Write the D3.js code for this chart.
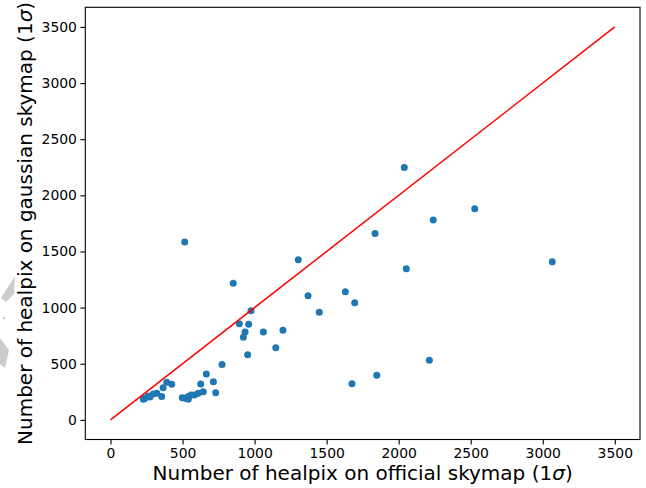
<!DOCTYPE html>
<html>
<head>
<meta charset="utf-8">
<script src="https://cdn.jsdelivr.net/npm/d3@7"></script>
<style>
  html, body { margin: 0; padding: 0; background: #fff; }
  svg { display: block; font-family: "DejaVu Sans", sans-serif; }
</style>
</head>
<body>
<svg id="chart" width="646" height="488"></svg>
<script>
// ---- Data ----
const officialCounts = [
  2039, 2528, 2240, 1836, 852, 1303, 3066, 2053, 515, 1371,
  1630, 1695, 1449, 975, 894, 959, 934, 922, 1061, 1197,
  1147, 952, 774, 2213, 1848, 1676, 665, 714, 626, 730,
  644, 609, 582, 559, 540, 517, 498, 540, 390, 425,
  365, 355, 321, 297, 262, 239, 228, 274
];
const gaussianCounts = [
  2247, 1881, 1781, 1659, 1217, 1427, 1409, 1347, 1585, 1106,
  1142, 1044, 958, 973, 857, 852, 783, 736, 783, 798,
  643, 581, 492, 531, 397, 322, 409, 340, 320, 242,
  251, 237, 222, 222, 207, 192, 198, 184, 335, 317,
  286, 207, 237, 231, 213, 192, 183, 204
];
const referenceLineX = [0, 3500];
const referenceLineY = [0, 3500];
const xTickValues = [0, 500, 1000, 1500, 2000, 2500, 3000, 3500];
const yTickValues = [0, 500, 1000, 1500, 2000, 2500, 3000, 3500];
const xLabelMain = "Number of healpix on official skymap (1";
const yLabelMain = "Number of healpix on gaussian skymap (1";
const labelSymbol = "\u03C3";
const labelClose = ")";

// ---- Layout ----
const W = 646, H = 488;
const plot = { left: 85.3, right: 640, top: 7.3, bottom: 439.5 };

const svg = d3.select("#chart");

// faint watermark fragments at the left edge
const wm = svg.append("g").attr("fill", "#cccccc");
wm.append("polygon").attr("points", "1,298 15,276 14,294 6,302");
wm.append("polygon").attr("points", "0,338 9,350 5,368 0,364");
wm.append("circle").attr("cx", 4).attr("cy", 318).attr("r", 1.3);

const x = d3.scaleLinear().domain([-175, 3675]).range([plot.left, plot.right]);
const y = d3.scaleLinear().domain([-175, 3675]).range([plot.bottom, plot.top]);

// clip
svg.append("defs").append("clipPath").attr("id", "clip")
  .append("rect")
  .attr("x", plot.left).attr("y", plot.top)
  .attr("width", plot.right - plot.left).attr("height", plot.bottom - plot.top);

const marks = svg.append("g").attr("clip-path", "url(#clip)");

// points
const pts = officialCounts.map((v, i) => ({ x: v, y: gaussianCounts[i] }));
marks.selectAll("circle.pt").data(pts).enter().append("circle")
  .attr("class", "pt")
  .attr("cx", d => x(d.x))
  .attr("cy", d => y(d.y))
  .attr("r", 3.5)
  .attr("fill", "#1f77b4");

// reference line y = x
const lineData = referenceLineX.map((v, i) => [v, referenceLineY[i]]);
marks.append("path")
  .datum(lineData)
  .attr("d", d3.line().x(d => x(d[0])).y(d => y(d[1])))
  .attr("fill", "none")
  .attr("stroke", "red")
  .attr("stroke-width", 1.5);

// axes
const fontTick = 13.9;
const xAxis = d3.axisBottom(x).tickValues(xTickValues).tickFormat(d3.format("d"))
  .tickSize(4.9).tickPadding(3.5).tickSizeOuter(0);
const yAxis = d3.axisLeft(y).tickValues(yTickValues).tickFormat(d3.format("d"))
  .tickSize(4.9).tickPadding(3.5).tickSizeOuter(0);

const gx = svg.append("g").attr("transform", `translate(0,${plot.bottom})`).call(xAxis);
const gy = svg.append("g").attr("transform", `translate(${plot.left},0)`).call(yAxis);
[gx, gy].forEach(g => {
  g.select(".domain").remove();
  g.selectAll(".tick line").attr("stroke", "#000").attr("stroke-width", 1.1);
  g.selectAll(".tick text")
    .attr("fill", "#000")
    .style("font-family", "'DejaVu Sans', sans-serif")
    .style("font-size", fontTick + "px");
});

// frame
svg.append("rect")
  .attr("x", plot.left).attr("y", plot.top)
  .attr("width", plot.right - plot.left).attr("height", plot.bottom - plot.top)
  .attr("fill", "none").attr("stroke", "#000").attr("stroke-width", 1.1);

// axis labels
function addLabel(sel, main) {
  sel.append("tspan").text(main);
  sel.append("tspan").style("font-style", "italic").text(labelSymbol);
  sel.append("tspan").text(labelClose);
}

const xl = svg.append("text")
  .attr("x", (plot.left + plot.right) / 2)
  .attr("y", 480)
  .attr("text-anchor", "middle")
  .style("font-size", "20px")
  .attr("fill", "#000");
addLabel(xl, xLabelMain);

const yl = svg.append("text")
  .attr("transform", `translate(32,${(plot.top + plot.bottom) / 2}) rotate(-90)`)
  .attr("text-anchor", "middle")
  .style("font-size", "20px")
  .attr("fill", "#000");
addLabel(yl, yLabelMain);
</script>
</body>
</html>
